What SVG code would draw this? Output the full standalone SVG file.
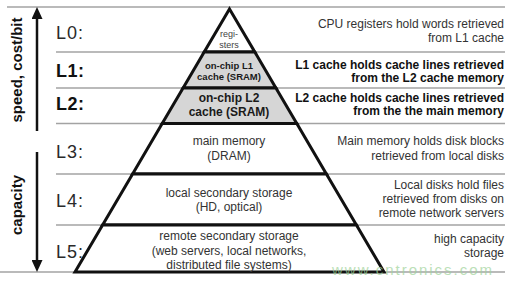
<svg xmlns="http://www.w3.org/2000/svg" width="515" height="287" viewBox="0 0 515 287">
  <defs>
    <marker id="head" markerUnits="userSpaceOnUse" markerWidth="12" markerHeight="11" refX="0" refY="5.5" orient="auto">
      <path d="M0,0 L12,5.5 L0,11 z" fill="#111"/>
    </marker>
    <style>
      text { font-family: "Liberation Sans", Arial, sans-serif; }
      .guide { stroke: #a3a3a3; stroke-width: 1.5; fill: none; }
      .band { stroke: #111; stroke-width: 3; stroke-linejoin: miter; }
      .white { fill: #ffffff; }
      .grey { fill: #d6d6d6; }
      .lvl { font-size: 18px; fill: #2a2a2a; letter-spacing: 1px; }
      .lvlb { font-size: 18px; font-weight: bold; fill: #111; letter-spacing: 0.5px; }
      .in { font-size: 12px; fill: #333; text-anchor: middle; }
      .inb { font-weight: bold; fill: #1a1a1a; text-anchor: middle; }
      .desc { font-size: 12px; fill: #333; text-anchor: end; }
      .descb { font-size: 12px; font-weight: bold; fill: #111; text-anchor: end; }
      .axis { font-size: 15px; font-weight: bold; fill: #111; text-anchor: middle; }
      .arrow { stroke: #111; stroke-width: 2.5; fill: none; marker-end: url(#head); }
    </style>
  </defs>
  <rect width="515" height="287" fill="#ffffff"/>

  <g id="guides">
    <line class="guide" x1="7" y1="7" x2="505" y2="7"/>
    <line class="guide" x1="56" y1="52" x2="505" y2="52"/>
    <line class="guide" x1="56" y1="88" x2="505" y2="88"/>
    <line class="guide" x1="56" y1="123.5" x2="505" y2="123.5"/>
    <line class="guide" x1="56" y1="174" x2="505" y2="174"/>
    <line class="guide" x1="56" y1="225" x2="505" y2="225"/>
    <line class="guide" x1="0" y1="272" x2="505" y2="272"/>
  </g>

  <g id="level-L0">
    <polygon class="band white" points="229.5,9 254.8,52 204.2,52"/>
    <text class="lvl" x="56" y="39">L0:</text>
    <text class="in" x="229" y="37" style="font-size:9px;fill:#444">regi-</text>
    <text class="in" x="229" y="48" style="font-size:9px;fill:#444">sters</text>
    <text class="desc" x="504" y="28">CPU registers hold words retrieved</text>
    <text class="desc" x="504" y="42">from L1 cache</text>
  </g>

  <g id="level-L1">
    <polygon class="band grey" points="204.2,52 254.8,52 275.9,88 183.1,88"/>
    <text class="lvlb" x="56" y="77">L1:</text>
    <text class="inb" x="229" y="69" style="font-size:9.5px">on-chip L1</text>
    <text class="inb" x="229" y="80" style="font-size:9.5px">cache (SRAM)</text>
    <text class="descb" x="504" y="69">L1 cache holds cache lines retrieved</text>
    <text class="descb" x="504" y="82">from the L2 cache memory</text>
  </g>

  <g id="level-L2">
    <polygon class="band grey" points="183.1,88 275.9,88 296.8,123.5 162.2,123.5"/>
    <text class="lvlb" x="56" y="110">L2:</text>
    <text class="inb" x="229" y="102" style="font-size:12px">on-chip L2</text>
    <text class="inb" x="229" y="116" style="font-size:12px">cache (SRAM)</text>
    <text class="descb" x="504" y="102">L2 cache holds cache lines retrieved</text>
    <text class="descb" x="504" y="115">from the the main memory</text>
  </g>

  <g id="level-L3">
    <polygon class="band white" points="162.2,123.5 296.8,123.5 326.4,174 132.6,174"/>
    <text class="lvl" x="56" y="158">L3:</text>
    <text class="in" x="229" y="145">main memory</text>
    <text class="in" x="229" y="160">(DRAM)</text>
    <text class="desc" x="504" y="145">Main memory holds disk blocks</text>
    <text class="desc" x="504" y="160">retrieved from local disks</text>
  </g>

  <g id="level-L4">
    <polygon class="band white" points="132.6,174 326.4,174 356.4,225 102.6,225"/>
    <text class="lvl" x="56" y="207">L4:</text>
    <text class="in" x="229" y="197">local secondary storage</text>
    <text class="in" x="229" y="211">(HD, optical)</text>
    <text class="desc" x="504" y="189">Local disks hold files</text>
    <text class="desc" x="504" y="203">retrieved from disks on</text>
    <text class="desc" x="504" y="217">remote network servers</text>
  </g>

  <g id="level-L5">
    <polygon class="band white" points="102.6,225 356.4,225 384,272 75,272"/>
    <text class="lvl" x="56" y="258">L5:</text>
    <text class="in" x="229" y="240">remote secondary storage</text>
    <text class="in" x="229" y="255">(web servers, local networks,</text>
    <text class="in" x="229" y="269">distributed file systems)</text>
    <text class="desc" x="504" y="243">high capacity</text>
    <text class="desc" x="504" y="257">storage</text>
  </g>

  <g id="connectors">
    <line class="arrow" x1="37" y1="131" x2="37" y2="19"/>
    <line class="arrow" x1="37" y1="152" x2="37" y2="260"/>
  </g>

  <g id="axis-labels">
    <text class="axis" transform="translate(22,70) rotate(-90)">speed, cost/bit</text>
    <text class="axis" transform="translate(22,205) rotate(-90)">capacity</text>
  </g>

  <text x="332" y="275" textLength="160" lengthAdjust="spacing" style="font-size:15px;fill:#9fd39a;opacity:0.7">www.cntronics.com</text>
</svg>
